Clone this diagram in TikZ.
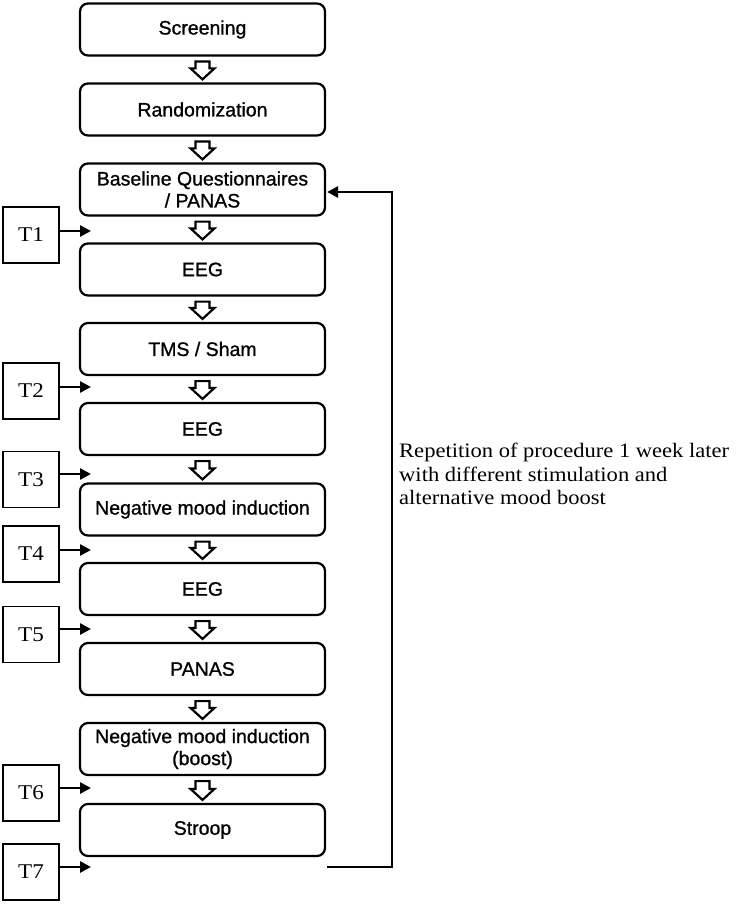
\documentclass[tikz,border=0pt]{standalone}
\usepackage{fontspec}
\setmainfont{Liberation Serif}[FakeStretch=1.1]
\setsansfont{Liberation Sans}[FakeBold=1]
\usetikzlibrary{calc,arrows.meta}
\newcommand\harrow[2]{\draw[hollow] let \p1=(#1.south), \p2=(#2.north) in
  (\x1-7pt,\y1-5pt) -- (\x1+7pt,\y1-5pt) -- (\x1+7pt,\y2+14pt) -- (\x1+12pt,\y2+14pt)
  -- (\x1,\y2+3pt) -- (\x1-12pt,\y2+14pt) -- (\x1-7pt,\y2+14pt) -- cycle;}
\begin{document}
\begin{tikzpicture}[x=1pt,y=1pt,
  stepbox/.style={draw, line width=2.2pt, rounded corners=8pt, minimum width=245pt,
    minimum height=52pt, font=\sffamily\fontsize{19.5}{22}\selectfont, align=center, inner sep=0pt},
  tbox/.style={draw, line width=1.1pt, minimum width=56pt, minimum height=56pt,
    font=\fontsize{21}{23}\selectfont, inner sep=0pt},
  tarrow/.style={line width=2.6pt, -{Triangle[length=11pt,width=11pt]}},
  hollow/.style={draw, line width=2.2pt, fill=white, line join=miter},
  note/.style={font=\fontsize{20.5}{23.5}\selectfont, align=left, anchor=north west, inner sep=0pt}]
\useasboundingbox (0,0) rectangle (745,-904);

\node[stepbox] (s1) at (202.5,-29.5) {Screening};
\node[stepbox] (s2) at (202.5,-109.5) {Randomization};
\node[stepbox] (s3) at (202.5,-189.5) {Baseline Questionnaires\\/ PANAS};
\node[stepbox] (s4) at (202.5,-269.5) {EEG};
\node[stepbox] (s5) at (202.5,-349) {TMS / Sham};
\node[stepbox] (s6) at (202.5,-429) {EEG};
\node[stepbox] (s7) at (202.5,-509.5) {Negative mood induction};
\node[stepbox] (s8) at (202.5,-589) {EEG};
\node[stepbox] (s9) at (202.5,-669) {PANAS};
\node[stepbox] (s10) at (202.5,-749) {Negative mood induction\\(boost)};
\node[stepbox] (s11) at (202.5,-830) {Stroop};

\harrow{s1}{s2}
\harrow{s2}{s3}
\harrow{s3}{s4}
\harrow{s4}{s5}
\harrow{s5}{s6}
\harrow{s6}{s7}
\harrow{s7}{s8}
\harrow{s8}{s9}
\harrow{s9}{s10}
\harrow{s10}{s11}

\node[tbox] (t1) at (31,-235) {T1};
\node[tbox] (t2) at (31,-391) {T2};
\node[tbox] (t3) at (31,-479.5) {T3};
\node[tbox] (t4) at (31,-554) {T4};
\node[tbox] (t5) at (31,-634.5) {T5};
\node[tbox] (t6) at (31,-793) {T6};
\node[tbox] (t7) at (31,-872) {T7};

\coordinate (e1) at (91,-231);
\coordinate (e2) at (91,-387);
\coordinate (e3) at (91,-474);
\coordinate (e4) at (91,-550);
\coordinate (e5) at (91,-629);
\coordinate (e6) at (91,-788);
\coordinate (e7) at (91,-867);
\foreach \i in {1,...,7} {\draw[tarrow] (t\i.east |- e\i) -- (e\i);}

\coordinate (l0) at (327,-867);
\coordinate (l1) at (392,-867);
\coordinate (l2) at (392,-192);
\draw[tarrow, line join=miter] (l0) -- (l1) -- (l2) -- ($(s3.east |- l2)+(1,0)$);

\node[note] (rep) at (399,-443) {Repetition of procedure 1 week later\\with different stimulation and\\alternative mood boost};
\end{tikzpicture}
\end{document}
